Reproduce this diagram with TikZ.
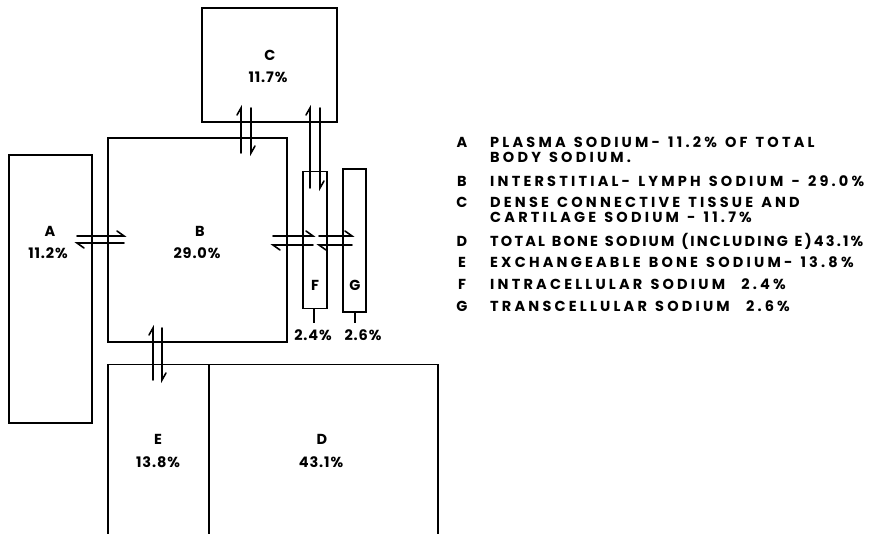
\documentclass[tikz,border=0pt]{standalone}
\usepackage{fontspec}
\setmainfont{Poppins}
\newfontfamily\legfont{Poppins}[LetterSpace=22,WordSpace=1.3]
\newfontfamily\legfontD{Poppins}[LetterSpace=15,WordSpace=1.3]
\newfontfamily\lblfont{Poppins}[LetterSpace=6]
\begin{document}
\begin{tikzpicture}[x=1pt,y=-1pt,
  box/.style={draw, line width=1.8pt, rectangle, inner sep=0pt, outer sep=0pt},
  edge/.style={line width=1.8pt},
  harp/.style={line width=1.6pt, line cap=round, line join=miter},
  lbl/.style={font=\lblfont\bfseries\fontsize{14.5}{16}\selectfont, inner sep=0pt},
  legkey/.style={font=\legfont\bfseries\fontsize{14.5}{16}\selectfont, inner sep=0pt, anchor=base},
  legtxt/.style={font=\legfont\bfseries\fontsize{14.5}{16}\selectfont, inner sep=0pt, anchor=base west}]
\useasboundingbox (0,0) rectangle (876,534);
% boxes
\node[box, minimum width=83pt, minimum height=268pt] (A) at (50.5,289) {};
\node[box, minimum width=179pt, minimum height=204pt] (B) at (197.5,240) {};
\node[box, minimum width=135pt, minimum height=114pt] (C) at (269.5,65) {};
\node[box, minimum width=24pt, minimum height=137pt] (F) at (315,240) {};
\node[box, minimum width=23pt, minimum height=143pt] (G) at (354.5,240.5) {};
\coordinate (Etl) at (108,364.5);
\coordinate (Dtr) at (438,364.5);
\coordinate (EDdiv) at (209,364.5);
\draw[edge] (108,534) -- (Etl) -- (Dtr) -- (438,534);
\draw[edge] (EDdiv) -- (209,534);
% labels
\node[lbl] (Alet) at (50,231) {A};
\node[lbl] (Apct) at (48,253) {11.2\%};
\node[lbl] (Blet) at (200,231) {B};
\node[lbl] (Bpct) at (197,253) {29.0\%};
\node[lbl] (Clet) at (270,55) {C};
\node[lbl] (Cpct) at (268,77) {11.7\%};
\node[lbl] (Elet) at (158,439) {E};
\node[lbl] (Epct) at (158,462) {13.8\%};
\node[lbl] (Dlet) at (322,439) {D};
\node[lbl] (Dpct) at (321,462) {43.1\%};
\node[lbl] (Flet) at (315,285) {F};
\node[lbl] (Glet) at (355,285) {G};
\node[lbl] (Fpct) at (313,335) {2.4\%};
\node[lbl] (Gpct) at (363,335) {2.6\%};
\draw[edge] (F.south -| 314,0) -- (314,323);
\draw[edge] (G.south -| 355,0) -- (355,323);
% harpoons A-B
\draw[harp] (77,236) -- (124,236) -- ++(-7,-5);
\draw[harp] (124,243) -- (77,243) -- ++(7,5);
% B-C
\draw[harp] (241,153) -- (241,108) -- ++(-4,7);
\draw[harp] (251,108) -- (251,153) -- ++(4,-7);
% C-F
\draw[harp] (310,188) -- (310,108) -- ++(-4,7);
\draw[harp] (320,108) -- (320,188) -- ++(4,-7);
% B-F
\draw[harp] (273,236) -- (313,236) -- ++(-7,-5);
\draw[harp] (313,245) -- (273,245) -- ++(7,5);
% F-G
\draw[harp] (319,236) -- (352,236) -- ++(-7,-5);
\draw[harp] (352,245) -- (319,245) -- ++(7,5);
% B-E
\draw[harp] (153,380) -- (153,328) -- ++(-4,7);
\draw[harp] (162,328) -- (162,380) -- ++(4,-7);
% legend
\node[legkey] (kA) at (462,148) {A};
\node[legtxt] (tA1) at (490,148) {PLASMA SODIUM- 11.2\% OF TOTAL};
\node[legtxt] (tA2) at (490,163) {BODY SODIUM.};
\node[legkey] (kB) at (462,187) {B};
\node[legtxt] (tB) at (490,187) {INTERSTITIAL- LYMPH SODIUM - 29.0\%};
\node[legkey] (kC) at (462,208) {C};
\node[legtxt] (tC1) at (490,208) {DENSE CONNECTIVE TISSUE AND};
\node[legtxt] (tC2) at (490,223) {CARTILAGE SODIUM - 11.7\%};
\node[legkey] (kD) at (462,247) {D};
\node[legtxt, font=\legfontD\bfseries\fontsize{14.5}{16}\selectfont] (tD) at (490,247) {TOTAL BONE SODIUM (INCLUDING E)43.1\%};
\node[legkey] (kE) at (462,268) {E};
\node[legtxt] (tE) at (490,268) {EXCHANGEABLE BONE SODIUM- 13.8\%};
\node[legkey] (kF) at (462,290) {F};
\node[legtxt] (tF) at (490,290) {INTRACELLULAR SODIUM\ \ 2.4\%};
\node[legkey] (kG) at (462,312) {G};
\node[legtxt] (tG) at (490,312) {TRANSCELLULAR SODIUM\ \ 2.6\%};
\end{tikzpicture}
\end{document}
